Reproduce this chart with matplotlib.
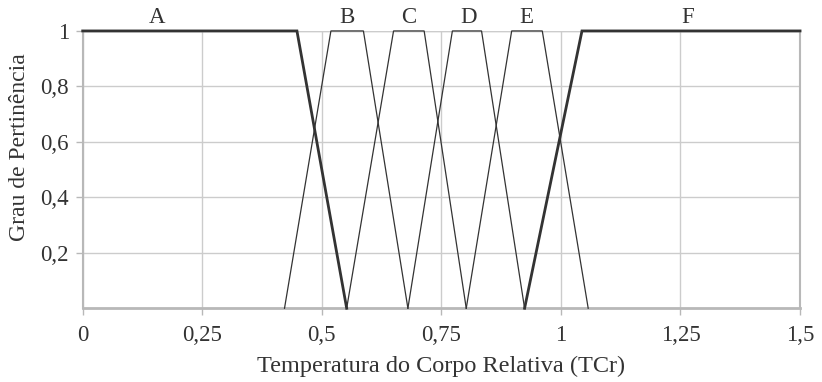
import matplotlib
matplotlib.use("Agg")
import matplotlib.pyplot as plt

plt.rcParams['font.family'] = ['Liberation Serif', 'DejaVu Serif']

# trapezoidal membership functions: (a, b, c, d) breakpoints on TCr
sets = ['A', 'B', 'C', 'D', 'E', 'F']
breaks = {
    'A': [0.0, 0.0, 0.448, 0.552],
    'B': [0.422, 0.519, 0.587, 0.680],
    'C': [0.552, 0.650, 0.714, 0.802],
    'D': [0.680, 0.773, 0.834, 0.924],
    'E': [0.802, 0.897, 0.961, 1.057],
    'F': [0.924, 1.044, 1.5, 1.5],
}
label_x = [0.156, 0.553, 0.682, 0.806, 0.927, 1.264]
bold_sets = ['A', 'F']

xticks = [0, 0.25, 0.5, 0.75, 1, 1.25, 1.5]
xtick_labels = ['0', '0,25', '0,5', '0,75', '1', '1,25', '1,5']
yticks = [0.2, 0.4, 0.6, 0.8, 1.0]
ytick_labels = ['0,2', '0,4', '0,6', '0,8', '1']

fig = plt.figure(figsize=(8.22, 3.82), dpi=100)
ax = fig.add_axes([0.1006, 0.193, 0.8727, 0.726])

dark = '#333333'
grey = '#b8b8b8'

for name in sets:
    a, b, c, d = breaks[name]
    xs = [a, b, c, d]
    ys = [0 if a != b else 1, 1, 1, 0 if c != d else 1]
    lw = 2.0 if name in bold_sets else 0.9
    ax.plot(xs, ys, color=dark, lw=lw, solid_joinstyle='miter', zorder=3,
            clip_on=False)

for name, lx in zip(sets, label_x):
    ax.text(lx, 1.05, name, ha='center', va='center', fontsize=16.5,
            color=dark, clip_on=False)

ax.set_xlim(0, 1.5)
ax.set_ylim(0, 1)
ax.set_xticks(xticks)
ax.set_xticklabels(xtick_labels)
ax.set_yticks(yticks)
ax.set_yticklabels(ytick_labels)
ax.grid(True, color='#cccccc', lw=1.0, zorder=0)
ax.axhline(1.0, color='#cccccc', lw=1.0, zorder=0)

ax.spines['top'].set_visible(False)
for side in ['left', 'right']:
    ax.spines[side].set_color(grey)
    ax.spines[side].set_linewidth(1.5)
ax.spines['bottom'].set_color(grey)
ax.spines['bottom'].set_linewidth(2.0)

ax.tick_params(axis='both', colors=grey, labelcolor=dark, labelsize=16.5,
               length=5, width=1.0, pad=5)
ax.tick_params(axis='x', pad=7)
ax.tick_params(axis='y', which='both', right=False)

ax.set_xlabel('Temperatura do Corpo Relativa (TCr)', fontsize=17.5,
              color=dark)
ax.xaxis.set_label_coords(0.5, -0.17)
ax.set_ylabel('Grau de Pertinência', fontsize=17, color=dark)
ax.yaxis.set_label_coords(-0.073, 0.58)

fig.savefig('out.png', dpi=100)
